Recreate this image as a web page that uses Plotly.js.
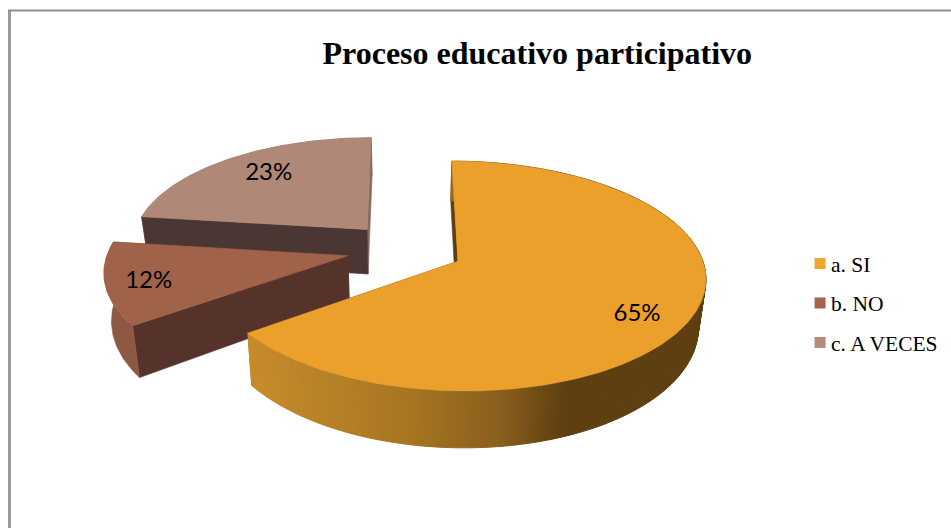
<!DOCTYPE html>
<html><head><meta charset="utf-8">
<script src="https://cdn.plot.ly/plotly-3.0.1.min.js"></script>
<style>html,body{margin:0;padding:0;background:#fff}#c{width:951px;height:528px}</style>
</head><body><div id="c"></div>
<script>
const categories = ["a. SI", "b. NO", "c. A VECES"];
const values = [65, 12, 23];
const topColors = ["#eca02c", "#a1624a", "#b08878"];
const legendColors = ["#efa52f", "#a6644e", "#b58a7d"];
const wallColors = [null, "#8e5843", "#8a6a5e"];
const cutColors = ["#5f3f11", "#55332a", "#4a3733"];
const gradientStops = [[250,[200,139,42]],[400,[168,119,34]],[500,[138,95,28]],[565,[94,63,17]],[710,[94,63,17]]];
const labelAngleTweak = [6, -1, 3];
const labelRadius = [0.80, 0.81, 0.73];
const sliceRadius = [0.99, 0.98, 0.97];

// camera of the 3-D pie
const px=405, py=249, f=244, g=111, k=0.128, pull=0.24, depth=46, shrink=0.975;

function project(a, r, off, low){
  const t=a*Math.PI/180, Xw=off[0]+r*Math.sin(t), Yw=off[1]-r*Math.cos(t), d=1-k*Yw;
  let x=px+f*Xw/d, y=py+g*Yw/d;
  if(low){ x=px+(x-px)*shrink; y=y+depth/Math.pow(d,1.4); }
  return [x,y];
}
function arcPts(a0,a1,r,off,low){
  const n=Math.max(2,Math.ceil(Math.abs(a1-a0))), o=[];
  for(let i=0;i<=n;i++) o.push(project(a0+(a1-a0)*i/n,r,off,low));
  return o;
}
function poly(pts,color,w){
  return {type:"scatter",mode:"lines",x:pts.map(p=>p[0]).concat(pts[0][0]),y:pts.map(p=>p[1]).concat(pts[0][1]),
    fill:"toself",fillcolor:color,line:{color:color,width:w===undefined?0.6:w},hoverinfo:"skip",showlegend:false};
}
function gradColor(x){
  for(let i=1;i<gradientStops.length;i++){
    const a=gradientStops[i-1],b=gradientStops[i];
    if(x<=b[0]){const u=Math.max(0,(x-a[0])/(b[0]-a[0]));
      const c=a[1].map((v,j)=>Math.round(v+(b[1][j]-v)*u));return `rgb(${c})`;}
  }
  return "rgb(94,63,17)";
}
const total=values.reduce((a,b)=>a+b,0);
let acc=0; const slices=values.map((v,i)=>{const a0=acc*360/total; acc+=v; const a1=acc*360/total;
  const mid=(a0+a1)/2*Math.PI/180; return {i,a0,a1,off:[pull*Math.sin(mid),-pull*Math.cos(mid)]};});

const traces=[];
[2,1,0].forEach(idx=>{
  const s=slices[idx], R=sliceRadius[idx];
  const apexTop=project(0,0,s.off,false), apexLow=project(0,0,s.off,true);
  const p0=project(s.a0,R,s.off,false), p0L=project(s.a0,R,s.off,true);
  const p1=project(s.a1,R,s.off,false), p1L=project(s.a1,R,s.off,true);
  const up=arcPts(s.a0,s.a1,R,s.off,false), lo=arcPts(s.a0,s.a1,R,s.off,true);
  const faces=[poly([apexTop,p1,p1L,apexLow], idx===2?wallColors[2]:cutColors[idx]),
               poly([apexTop,p0,p0L,apexLow], cutColors[idx])];
  let walls=[];
  if(idx===0){
    for(let j=0;j<up.length-1;j++){
      walls.push(poly([up[j],up[j+1],lo[j+1],lo[j]],gradColor((up[j][0]+up[j+1][0])/2),1));
    }
  } else {
    walls.push(poly(up.concat(lo.slice().reverse()),wallColors[idx]));
  }
  // the back slice's outer wall faces away, so its cut faces go over it
  if(idx===2) traces.push(...walls,...faces); else traces.push(...faces,...walls);
  traces.push(poly([apexTop].concat(up),topColors[idx]));
});
// percentage labels
values.forEach((v,i)=>{
  const s=slices[i], p=project((s.a0+s.a1)/2+labelAngleTweak[i],labelRadius[i],s.off,false);
  traces.push({type:"scatter",mode:"text",x:[p[0]],y:[p[1]+1],text:[Math.round(v/total*100)+"%"],
    textposition:"middle center",textfont:{family:"Lato, sans-serif",size:24,color:"#000"},hoverinfo:"skip",showlegend:false});
});
// legend entries
categories.forEach((c,i)=>{
  traces.push({type:"scatter",mode:"markers",name:c,legendgroup:c,x:[null],y:[null],
    marker:{symbol:"square",size:11,color:legendColors[i]}});
});
const layout={
  width:951,height:528,margin:{l:0,r:0,t:0,b:0},paper_bgcolor:"#fff",plot_bgcolor:"#fff",
  title:{text:"<b>Proceso educativo participativo</b>",x:0.565,xanchor:"center",y:0.9,yanchor:"middle",yref:"paper",
    font:{family:"Liberation Serif",size:32,color:"#000"}},
  xaxis:{range:[0,951],visible:false,fixedrange:true},
  yaxis:{range:[528,0],visible:false,fixedrange:true},
  legend:{x:0.8318,xanchor:"left",y:0.426,yanchor:"middle",font:{family:"Liberation Serif",size:21.5,color:"#000"},
    tracegroupgap:8.5,itemwidth:30,bgcolor:"rgba(0,0,0,0)"},
  shapes:[
    {type:"line",xref:"paper",yref:"paper",x0:9.5/951,x1:9.5/951,y0:1-10/528,y1:0,line:{color:"#9a9a9a",width:3}},
    {type:"line",xref:"paper",yref:"paper",x0:8/951,x1:1,y0:1-10.5/528,y1:1-10.5/528,line:{color:"#8f8f8f",width:2}}
  ]
};
Plotly.newPlot("c",traces,layout,{displayModeBar:false,staticPlot:true}).then(()=>{
  document.querySelectorAll(".legend .traces .legendpoints").forEach(n=>n.setAttribute("transform","translate(9,0)"));
});
</script></body></html>
